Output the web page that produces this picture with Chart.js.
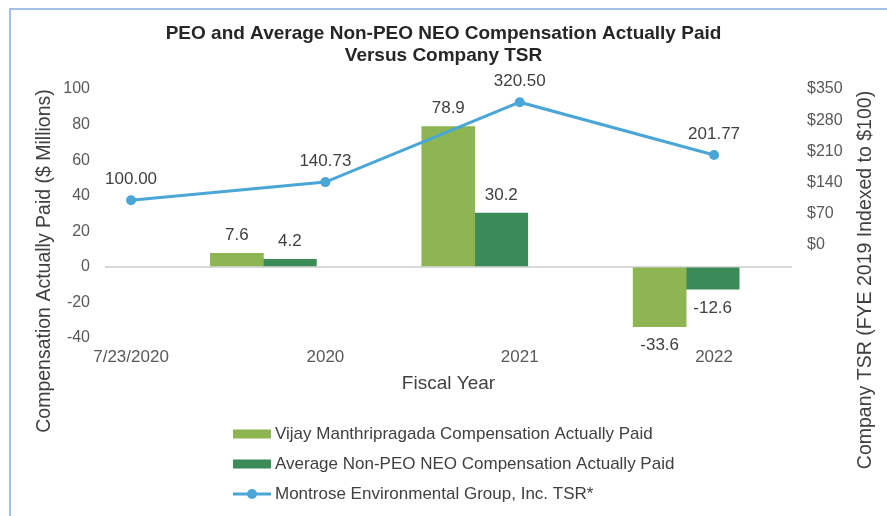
<!DOCTYPE html>
<html>
<head>
<meta charset="utf-8">
<title>Compensation Actually Paid vs TSR</title>
<script src="https://cdn.jsdelivr.net/npm/chart.js"></script>
<style>
  html, body { margin: 0; padding: 0; background: #fff; }
  #wrap { position: relative; width: 887px; height: 516px; overflow: hidden; }
  #frame { position: absolute; left: 9px; top: 8px; right: -5px; bottom: -5px;
           border-top: 2px solid #a3c1e4; border-left: 2px solid #a3c1e4; }
  canvas { position: absolute; left: 0; top: 0; }
</style>
</head>
<body>
<div id="wrap">
  <div id="frame"></div>
  <canvas id="capChart" width="887" height="516"></canvas>
</div>
<script>
const years = ['7/23/2020', '2020', '2021', '2022'];
const peoCap = [null, 7.6, 78.9, -33.6];   // Vijay Manthripragada, $M
const neoCap = [null, 4.2, 30.2, -12.6];   // average non-PEO NEO, $M
const tsr = [100.00, 140.73, 320.50, 201.77];

const fontFamily = '"Liberation Sans", Arial, sans-serif';
Chart.defaults.font.family = fontFamily;

function points(values) {
  return years.map((_, i) => ({ x: i, y: values[i] })).filter(p => p.y !== null);
}

// numbers above/below bars and points
const valueLabels = {
  id: 'valueLabels',
  afterDatasetsDraw(chart) {
    const ctx = chart.ctx;
    ctx.save();
    ctx.font = '17px ' + fontFamily;
    ctx.fillStyle = '#404040';
    ctx.textAlign = 'center';
    ctx.textBaseline = 'middle';
    chart.data.datasets.forEach((ds, i) => {
      chart.getDatasetMeta(i).data.forEach((el, j) => {
        const v = ds.data[j].y;
        if (ds.type === 'line') {
          ctx.fillText(v.toFixed(2), el.x, el.y - 21);
        } else {
          ctx.fillText(v.toFixed(1), el.x, v >= 0 ? el.y - 18 : el.y + 19);
        }
      });
    });
    ctx.restore();
  }
};

// stacked legend under the axis
const listLegend = {
  id: 'listLegend',
  afterDraw(chart) {
    const ctx = chart.ctx;
    const x0 = 233, y0 = 434, gap = 30;
    ctx.save();
    ctx.font = '17px ' + fontFamily;
    ctx.textAlign = 'left';
    ctx.textBaseline = 'middle';
    chart.data.datasets.forEach((ds, i) => {
      const y = y0 + i * gap;
      if (ds.type === 'line') {
        ctx.strokeStyle = ds.borderColor;
        ctx.lineWidth = 3;
        ctx.beginPath();
        ctx.moveTo(x0, y);
        ctx.lineTo(x0 + 38, y);
        ctx.stroke();
        ctx.fillStyle = ds.borderColor;
        ctx.beginPath();
        ctx.arc(x0 + 19, y, 5, 0, Math.PI * 2);
        ctx.fill();
      } else {
        ctx.fillStyle = ds.backgroundColor;
        ctx.fillRect(x0, y - 4.5, 38, 9);
      }
      ctx.fillStyle = '#404040';
      ctx.fillText(ds.label, x0 + 42, y);
    });
    ctx.restore();
  }
};

// both y titles read bottom-to-top
const sideTitles = {
  id: 'sideTitles',
  afterDraw(chart) {
    const ctx = chart.ctx;
    const draw = (text, x, y) => {
      ctx.save();
      ctx.translate(x, y);
      ctx.rotate(-Math.PI / 2);
      ctx.fillText(text, 0, 0);
      ctx.restore();
    };
    ctx.save();
    ctx.font = '19.5px ' + fontFamily;
    ctx.fillStyle = '#404040';
    ctx.textAlign = 'center';
    ctx.textBaseline = 'middle';
    draw('Compensation Actually Paid ($ Millions)', 45, 261);
    draw('Company TSR (FYE 2019 Indexed to $100)', 866, 280);
    ctx.restore();
  }
};

new Chart(document.getElementById('capChart'), {
  data: {
    datasets: [
      {
        type: 'bar',
        label: 'Vijay Manthripragada Compensation Actually Paid',
        data: points(peoCap),
        backgroundColor: '#8db652',
        xAxisID: 'xBar',
        yAxisID: 'y',
        barThickness: 53,
        order: 1
      },
      {
        type: 'bar',
        label: 'Average Non-PEO NEO Compensation Actually Paid',
        data: points(neoCap),
        backgroundColor: '#3a8b57',
        xAxisID: 'xBar',
        yAxisID: 'y',
        barThickness: 53,
        order: 1
      },
      {
        type: 'line',
        label: 'Montrose Environmental Group, Inc. TSR*',
        data: points(tsr),
        borderColor: '#4aa6d6',
        backgroundColor: '#4aa6d6',
        borderWidth: 3,
        pointRadius: 5,
        pointBorderWidth: 0,
        tension: 0,
        xAxisID: 'x',
        yAxisID: 'y1',
        order: 0
      }
    ]
  },
  options: {
    responsive: false,
    animation: false,
    devicePixelRatio: 1,
    layout: { padding: { top: 0, left: 0, right: 0, bottom: 118 } },
    plugins: {
      legend: { display: false },
      tooltip: { enabled: false },
      title: {
        display: true,
        text: ['PEO and Average Non-PEO NEO Compensation Actually Paid', 'Versus Company TSR'],
        color: '#262626',
        font: { size: 19, weight: 'bold', lineHeight: 1.16 },
        padding: { top: 23, bottom: 22 }
      }
    },
    scales: {
      x: {
        type: 'linear',
        offset: false,
        min: -0.134,
        max: 3.401,
        afterBuildTicks: s => { s.ticks = years.map((_, i) => ({ value: i })); },
        afterFit: s => { s.height = 60; },
        ticks: {
          callback: v => years[v],
          color: '#595959',
          font: { size: 17 },
          padding: 9,
          maxRotation: 0,
          autoSkip: false
        },
        grid: { display: false, drawTicks: false },
        border: { display: false },
        title: {
          display: true,
          text: 'Fiscal Year',
          color: '#404040',
          font: { size: 19 },
          padding: { top: 0, bottom: 3 }
        }
      },
      // bars sit on their own hidden axis (Excel drew them left of the year ticks)
      xBar: { type: 'linear', display: false, offset: false, min: 0, max: 3.25 },
      y: {
        position: 'left',
        min: -40,
        max: 100,
        afterFit: s => { s.width = 105; },
        ticks: { stepSize: 20, color: '#595959', font: { size: 16 }, padding: 15 },
        grid: {
          drawTicks: false,
          lineWidth: 2,
          color: c => (c.tick && c.tick.value === 0 ? '#d9d9d9' : 'transparent')
        },
        border: { display: false }
      },
      y1: {
        position: 'right',
        min: -210,
        max: 350,
        afterFit: s => { s.width = 95; },
        ticks: {
          stepSize: 70,
          color: '#595959',
          font: { size: 16 },
          padding: 15,
          callback: v => (v < 0 ? null : '$' + v)
        },
        grid: { display: false, drawTicks: false },
        border: { display: false }
      }
    }
  },
  plugins: [valueLabels, listLegend, sideTitles]
});
</script>
</body>
</html>
